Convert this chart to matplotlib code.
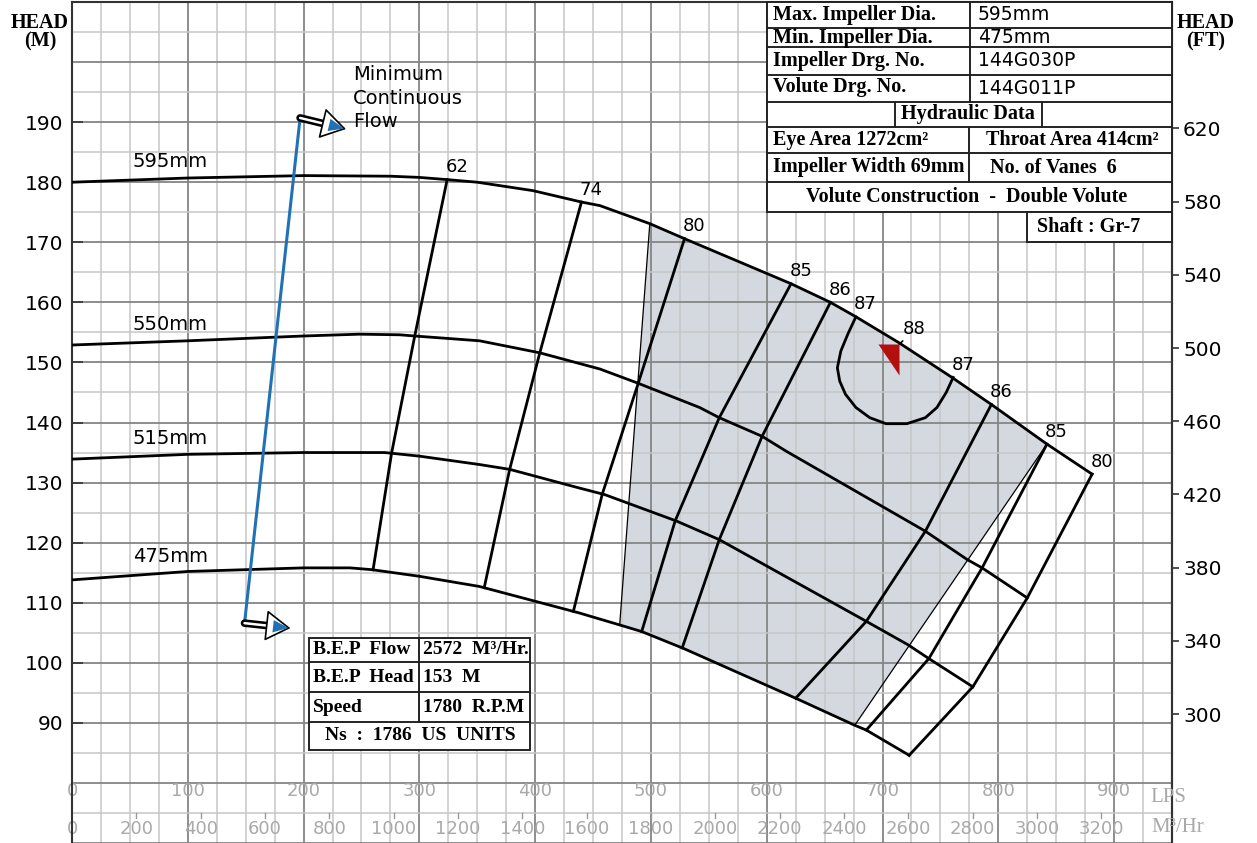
import numpy as np
import matplotlib.pyplot as plt
from matplotlib.path import Path
from matplotlib.patches import Rectangle
from matplotlib.lines import Line2D

# ---- data (flow in LPS, head in m) ----
dia_labels = ['595mm', '550mm', '515mm', '475mm']

q_595 = [0, 100, 200, 275, 300, 326, 350, 398, 440, 456, 499, 529, 621, 655, 677, 714, 760, 794, 842, 881]
h_595 = [180.0, 180.7, 181.1, 181.0, 180.8, 180.4, 180.0, 178.6, 176.7, 176.1, 173.1, 170.6, 163.1, 160.0,
         157.6, 153.3, 147.5, 143.0, 136.4, 131.4]
q_550 = [0, 100, 200, 248, 283, 296, 352, 404, 456, 488, 542, 559, 596, 617, 737, 773, 786, 825]
h_550 = [152.9, 153.6, 154.4, 154.7, 154.6, 154.4, 153.6, 151.6, 148.9, 146.6, 142.5, 140.8, 137.7, 135.2,
         121.9, 117.2, 115.8, 110.8]
q_515 = [0, 100, 200, 270, 300, 352, 378, 438, 460, 522, 559, 686, 722, 740, 778]
h_515 = [133.9, 134.7, 135.0, 135.0, 134.4, 133.0, 132.2, 129.1, 128.0, 123.6, 120.5, 106.9, 103.0, 100.7, 96.0]
q_475 = [0, 100, 200, 240, 259, 300, 352, 438, 473, 492, 528, 625, 676, 686, 723]
h_475 = [113.8, 115.2, 115.8, 115.8, 115.5, 114.4, 112.7, 108.3, 106.3, 105.2, 102.4, 94.1, 89.6, 88.8, 84.6]

# efficiency lines: flow where each crosses the 595 / 550 / 515 / 475 curves
eff_62 = [324, 296, 276, 260]
eff_74 = [440, 404, 378, 356]
eff_80 = [529, 489, 458, 433]
eff_85_left = [621, 559, 521, 492]
eff_86_left = [655, 596, 559, 527]
eff_86_right = [794, 737, 686, 625]
eff_85_right = [842, 786, 740, 686]

# 87 % island
q_87 = [677, 670, 664, 661, 663, 668, 677, 689, 703, 721, 737, 747, 755, 761]
h_87 = [157.6, 154.7, 151.9, 149.1, 146.9, 144.7, 142.5, 140.8, 139.8, 139.8, 140.8, 142.5, 145.0, 147.5]

# preferred operating region (flow on 595 curve, flow on 475 curve)
shade_top_q = [499, 842]
shade_bot_q = [473, 676]

# minimum continuous flow line
mcf_q = [149, 197]
mcf_h = [106.6, 190.7]

bep_flow_m3h = 2572
bep_head = 153

lps_ticks = list(range(0, 901, 100))
m3h_ticks = list(range(0, 3201, 200))
ft_ticks = list(range(300, 621, 40))

W, H = 1257, 843
BLUE = '#2171b5'
GREY_TXT = '#a9a9a9'

fig = plt.figure(figsize=(W / 100, H / 100), dpi=100)
ax = fig.add_axes([72 / W, 0, 1100 / W, 841 / H])
ax.set_xlim(0, 950)
ax.set_ylim(70, 210)


def fx(x):
    return x / W


def fy(y):
    return 1 - y / H


# grid
for q in np.arange(0, 951, 25):
    major = q % 100 == 0
    ax.axvline(q, color='#858585' if major else '#c6c6c6', lw=1.3 if major else 1.1, zorder=1)
for h in np.arange(70, 211, 5):
    major = h % 10 == 0
    ax.axhline(h, color='#858585' if major else '#c6c6c6', lw=1.3 if major else 1.1, zorder=1)

for s in ['left', 'top', 'right']:
    ax.spines[s].set_color('#333333')
    ax.spines[s].set_linewidth(1.5)
ax.spines['bottom'].set_visible(False)

ax.set_xticks([])
ax.set_yticks(range(90, 191, 10))
ax.tick_params(axis='y', direction='in', length=8, width=1.2, labelsize=14.5, pad=6, color='#333333')

sec = ax.secondary_yaxis('right', functions=(lambda m: m / 0.3048, lambda f: f * 0.3048))
sec.set_yticks(ft_ticks)
sec.tick_params(direction='out', length=5, width=1.2, labelsize=14.5, pad=3, color='#333333')
sec.spines['right'].set_color('#333333')
sec.spines['right'].set_linewidth(1.5)

# bottom flow scales
for q in lps_ticks:
    ax.text(q, 78.7, str(q), ha='center', va='center', fontsize=13, color=GREY_TXT, zorder=2)
for m in m3h_ticks:
    ax.text(m / 3.6, 72.4, str(m), ha='center', va='center', fontsize=13, color=GREY_TXT, zorder=2)
    if m > 0:
        ax.plot([m / 3.6, m / 3.6], [75, 74.2], color='#9a9a9a', lw=1.0, zorder=2)
fig.text(fx(1168), fy(797), 'LPS', ha='center', va='center', fontsize=15,
         family='Liberation Serif', color=GREY_TXT)
fig.text(fx(1178), fy(828), 'M³/Hr', ha='center', va='center', fontsize=15,
         family='Liberation Serif', color=GREY_TXT)

fig.text(fx(40), fy(32), 'HEAD\n(M)', ha='center', va='center', fontsize=14.5, family='Liberation Serif',
         weight='bold', linespacing=0.9)
fig.text(fx(1206), fy(32), 'HEAD\n(FT)', ha='center', va='center', fontsize=14.5, family='Liberation Serif',
         weight='bold', linespacing=0.9)

curves = [(q_595, h_595), (q_550, h_550), (q_515, h_515), (q_475, h_475)]


def on_curves(qs):
    return [np.interp(q, cq, ch) for q, (cq, ch) in zip(qs, curves)]


# shaded region
tq = [shade_top_q[0]] + [q for q in q_595 if shade_top_q[0] < q < shade_top_q[1]] + [shade_top_q[1]]
bq = [shade_bot_q[0]] + [q for q in q_475 if shade_bot_q[0] < q < shade_bot_q[1]] + [shade_bot_q[1]]
poly_q = tq + bq[::-1]
poly_h = list(np.interp(tq, q_595, h_595)) + list(np.interp(bq[::-1], q_475, h_475))
ax.fill(poly_q, poly_h, color='#d3d9df', lw=0, zorder=0.5)
for i in range(2):
    ax.plot([shade_top_q[i], shade_bot_q[i]],
            [np.interp(shade_top_q[i], q_595, h_595), np.interp(shade_bot_q[i], q_475, h_475)],
            color='black', lw=0.9, zorder=3)

# head curves
for (cq, ch), lab in zip(curves, dia_labels):
    ax.plot(cq, ch, color='black', lw=2.0, zorder=3, solid_joinstyle='round')
    ax.annotate(lab, xy=(85, np.interp(85, cq, ch)), xytext=(0, 12), textcoords='offset points',
                ha='center', va='center', fontsize=14)

# efficiency lines
iso_lines = [('62', eff_62), ('74', eff_74), ('80', eff_80), ('85', eff_85_left), ('86', eff_86_left),
             ('86', eff_86_right), ('85', eff_85_right)]
end_q = [c[0][-1] for c in curves]
end_h = [c[1][-1] for c in curves]
for lab, qs in iso_lines:
    hs = on_curves(qs)
    ax.plot(qs, hs, color='black', lw=2.0, zorder=3, solid_joinstyle='round')
    ax.annotate(lab, xy=(qs[0], hs[0]), xytext=(7, 9), textcoords='offset points',
                ha='center', va='center', fontsize=13)
ax.plot(end_q, end_h, color='black', lw=2.0, zorder=3)
ax.annotate('80', xy=(end_q[0], end_h[0]), xytext=(7, 9), textcoords='offset points',
            ha='center', va='center', fontsize=13)

ax.plot(q_87, h_87, color='black', lw=2.0, zorder=3, solid_joinstyle='round')
for i in [0, -1]:
    ax.annotate('87', xy=(q_87[i], h_87[i]), xytext=(7, 9), textcoords='offset points',
                ha='center', va='center', fontsize=13)

# BEP marker
bep_q = bep_flow_m3h / 3.6
tri = Path([(-0.68, 0), (0, 0), (0, -1), (-0.68, 0)], [Path.MOVETO, Path.LINETO, Path.LINETO, Path.CLOSEPOLY])
ax.plot([bep_q], [bep_head], marker=tri, markersize=45, color='#b30f0f', mec='none', ls='none', zorder=5)
ax.annotate('88', xy=(bep_q, bep_head), xytext=(11, 11), textcoords='offset points', ha='center',
            va='center', fontsize=13, arrowprops=dict(arrowstyle='-', lw=1.2, color='black',
                                                       shrinkA=4, shrinkB=0))

# minimum continuous flow
ax.plot(mcf_q, mcf_h, color=BLUE, lw=2.2, zorder=4)


def mcf_arrow(q, h, dx, dy):
    for lw, col in [(5.5, 'black'), (1.8, 'white')]:
        ax.annotate('', xy=(q, h), xytext=(dx * 0.6, dy * 0.6), textcoords='offset points', zorder=5,
                    arrowprops=dict(arrowstyle='-', lw=lw, color=col, shrinkA=0, shrinkB=0))
    ax.annotate('', xy=(q, h), xytext=(dx, dy), textcoords='offset points', zorder=6,
                arrowprops=dict(arrowstyle='<|-,head_length=1.6,head_width=1.0', mutation_scale=10,
                                lw=1.2, fc='white', ec='black', shrinkA=0, shrinkB=dx * 0.55))
    ax.annotate('', xy=(q, h), xytext=(dx, dy), textcoords='offset points', zorder=7,
                arrowprops=dict(arrowstyle='<|-,head_length=1.1,head_width=0.45', mutation_scale=10,
                                lw=0, fc=BLUE, ec='none', shrinkA=1.5, shrinkB=dx * 0.6))


mcf_arrow(mcf_q[1], mcf_h[1], 33, -8)
mcf_arrow(mcf_q[0], mcf_h[0], 33, -3.6)
ax.annotate('Minimum\nContinuous\nFlow', xy=(mcf_q[1], mcf_h[1]), xytext=(38, 14), textcoords='offset points',
            ha='left', va='center', fontsize=14, linespacing=1.3)


# ---- info tables (drawn in figure pixels) ----
def rect(x0, y0, x1, y1, lw=1.4):
    fig.add_artist(Rectangle((fx(x0), fy(y1)), fx(x1) - fx(x0), fy(y0) - fy(y1), transform=fig.transFigure,
                             facecolor='white', edgecolor='#222222', lw=lw, zorder=3))


def seg(x0, y0, x1, y1, lw=1.4):
    fig.add_artist(Line2D([fx(x0), fx(x1)], [fy(y0), fy(y1)], transform=fig.transFigure,
                          color='#222222', lw=lw, zorder=4))


def label(x, y, s, ha='left', serif=True, size=14.5):
    if serif:
        fig.text(fx(x), fy(y), s, ha=ha, va='center', fontsize=size, family='Liberation Serif',
                 weight='bold', zorder=5)
    else:
        fig.text(fx(x), fy(y), s, ha=ha, va='center', fontsize=size, zorder=5)


rect(767, 2, 1172, 212)
rect(1027, 212, 1172, 242)
for y in [28, 47, 75, 102, 127, 153, 182]:
    seg(767, y, 1172, y)
seg(970, 2, 970, 102)
seg(895, 102, 895, 127)
seg(1042, 102, 1042, 127)
seg(969, 127, 969, 182)

label(773, 15, 'Max. Impeller Dia.')
label(773, 37.5, 'Min. Impeller Dia.')
label(773, 61, 'Impeller Drg. No.')
label(773, 87, 'Volute Drg. No.')
label(978, 15, '595mm', serif=False, size=13.5)
label(978, 37.5, '475mm', serif=False, size=13.5)
label(978, 61, '144G030P', serif=False, size=13.5)
label(978, 88, '144G011P', serif=False, size=13.5)
label(968, 114, 'Hydraulic Data', ha='center')
label(773, 140, 'Eye Area 1272cm²')
label(986, 140, 'Throat Area 414cm²')
label(773, 167, 'Impeller Width 69mm')
label(990, 168, 'No. of Vanes  6')
label(967, 197, 'Volute Construction  -  Double Volute', ha='center')
label(1089, 227, 'Shaft : Gr-7', ha='center')

rect(309, 638, 530, 750)
for y in [662, 692, 722]:
    seg(309, y, 530, y)
seg(419, 638, 419, 722)
label(313, 650, 'B.E.P  Flow', size=14)
label(313, 677, 'B.E.P  Head', size=14)
label(313, 707, 'Speed', size=14)
label(423, 650, '%d  M³/Hr.' % bep_flow_m3h, size=14)
label(423, 677, '%d  M' % bep_head, size=14)
label(423, 707, '1780  R.P.M', size=14)
label(420, 736, 'Ns  :  1786  US  UNITS', ha='center', size=14)

fig.savefig('out.png', dpi=100)
